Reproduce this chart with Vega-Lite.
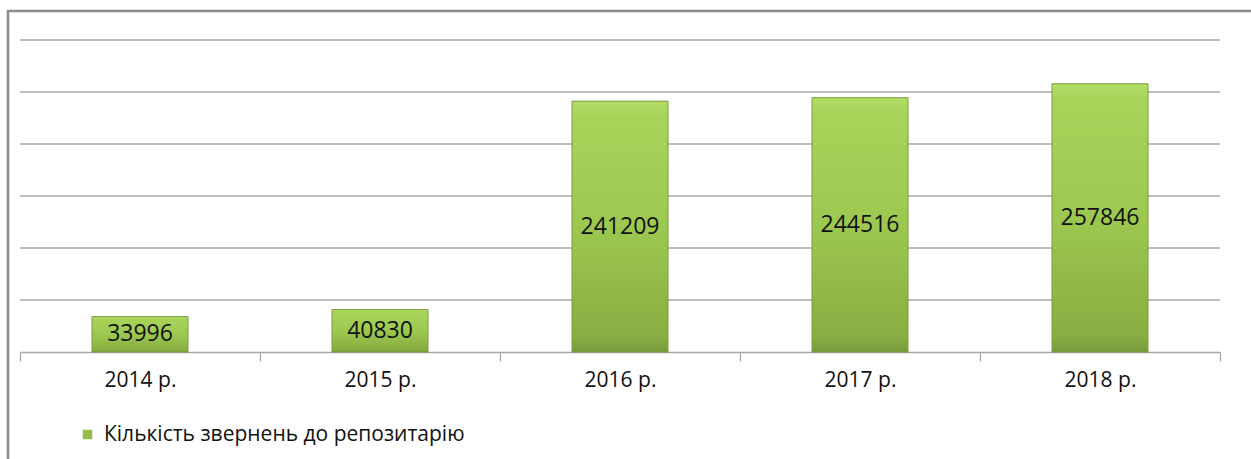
{
  "$schema": "https://vega.github.io/schema/vega-lite/v6.json",
  "width": 1250,
  "height": 460,
  "autosize": {"type": "none"},
  "padding": {"left": 8, "top": 11, "right": 0, "bottom": 0},
  "background": "white",
  "config": {
    "view": {"stroke": "#8c8c8c", "strokeWidth": 2.5},
    "font": "Open Sans",
    "rule": {"color": "#a6a6a6", "strokeWidth": 1.3}
  },
  "data": {
    "values": [
      {"year": "2014 р.", "value": 33996, "series": "Кількість звернень до репозитарію"},
      {"year": "2015 р.", "value": 40830, "series": "Кількість звернень до репозитарію"},
      {"year": "2016 р.", "value": 241209, "series": "Кількість звернень до репозитарію"},
      {"year": "2017 р.", "value": 244516, "series": "Кількість звернень до репозитарію"},
      {"year": "2018 р.", "value": 257846, "series": "Кількість звернень до репозитарію"}
    ]
  },
  "resolve": {"scale": {"y": "independent"}},
  "encoding": {
    "x": {
      "field": "year", "type": "nominal", "sort": null,
      "scale": {"range": [12, 1212], "paddingInner": 0, "paddingOuter": 0},
      "axis": {
        "title": null, "orient": "bottom", "offset": -119,
        "domainColor": "#a6a6a6", "domainWidth": 1.3,
        "tickColor": "#a6a6a6", "tickWidth": 1.3, "tickSize": 9,
        "tickBand": "extent",
        "labelAngle": 0, "labelFont": "Open Sans", "labelFontSize": 21,
        "labelColor": "#111111", "labelPadding": 8, "grid": false
      }
    }
  },
  "layer": [
    {
      "encoding": {
        "y": {
          "field": "value", "type": "quantitative",
          "scale": {"domain": [0, 300000], "range": [341, 29], "nice": false},
          "axis": null
        }
      },
      "layer": [
        {"mark": "rule", "encoding": {"x": {"field": "year", "type": "nominal", "sort": null, "bandPosition": 0}, "x2": {"field": "year", "bandPosition": 1}, "y": {"datum": 50000}}},
        {"mark": "rule", "encoding": {"x": {"field": "year", "type": "nominal", "sort": null, "bandPosition": 0}, "x2": {"field": "year", "bandPosition": 1}, "y": {"datum": 100000}}},
        {"mark": "rule", "encoding": {"x": {"field": "year", "type": "nominal", "sort": null, "bandPosition": 0}, "x2": {"field": "year", "bandPosition": 1}, "y": {"datum": 150000}}},
        {"mark": "rule", "encoding": {"x": {"field": "year", "type": "nominal", "sort": null, "bandPosition": 0}, "x2": {"field": "year", "bandPosition": 1}, "y": {"datum": 200000}}},
        {"mark": "rule", "encoding": {"x": {"field": "year", "type": "nominal", "sort": null, "bandPosition": 0}, "x2": {"field": "year", "bandPosition": 1}, "y": {"datum": 250000}}},
        {"mark": "rule", "encoding": {"x": {"field": "year", "type": "nominal", "sort": null, "bandPosition": 0}, "x2": {"field": "year", "bandPosition": 1}, "y": {"datum": 300000}}},
        {
          "mark": {"type": "bar", "width": {"band": 0.4}},
          "encoding": {
            "y": {"field": "value", "type": "quantitative"},
            "color": {
              "field": "series", "type": "nominal",
              "scale": {"range": ["#95bd4a"]},
              "legend": {
                "title": null, "orient": "none", "legendX": 69, "legendY": 413,
                "symbolType": "square", "symbolSize": 90, "symbolStrokeWidth": 0,
                "labelFont": "Open Sans", "labelFontSize": 21, "labelColor": "#111111",
                "labelOffset": 6, "labelLimit": 0
              }
            }
          }
        },
        {
          "mark": {
            "type": "bar", "width": {"band": 0.4},
            "stroke": "#7d9c3a", "strokeWidth": 1,
            "fill": {
              "gradient": "linear", "x1": 0, "y1": 0, "x2": 0, "y2": 1,
              "stops": [
                {"offset": 0, "color": "#b3de66"},
                {"offset": 0.06, "color": "#a8d45a"},
                {"offset": 0.5, "color": "#9cc84f"},
                {"offset": 0.94, "color": "#89ad42"},
                {"offset": 1, "color": "#78993a"}
              ]
            }
          },
          "encoding": {"y": {"field": "value", "type": "quantitative"}}
        }
      ]
    },
    {
      "mark": {"type": "text", "font": "Open Sans", "fontSize": 23, "color": "#111111", "align": "center", "baseline": "middle"},
      "encoding": {
        "y": {
          "field": "value", "type": "quantitative",
          "scale": {"domain": [0, 600000], "range": [341, 29], "nice": false},
          "axis": null
        },
        "text": {"field": "value", "type": "quantitative", "format": "d"}
      }
    }
  ]
}
